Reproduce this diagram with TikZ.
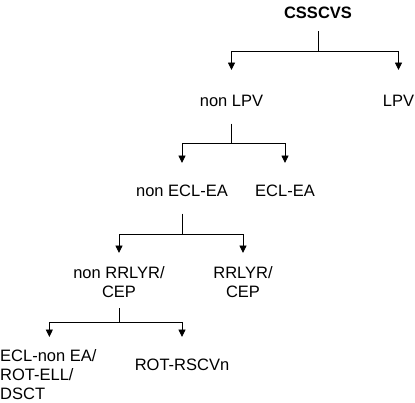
\documentclass[tikz,border=0pt]{standalone}
\usepackage{fontspec}
\setmainfont{Liberation Sans}
\usetikzlibrary{arrows.meta}
\begin{document}
\begin{tikzpicture}[x=1pt,y=-1pt,
  lbl/.style={inner sep=0pt,font=\fontsize{16.5}{19}\selectfont},
  lbltop/.style={lbl,anchor=north},
  ln/.style={line width=0.9pt},
  arr/.style={ln,-{Triangle[length=7.5pt,width=7pt]}}]
\useasboundingbox (0,0) rectangle (415,402);
\node[lbl,font=\fontsize{16.5}{19}\selectfont\bfseries] (css) at (318,13) {CSSCVS};
\node[lbltop] (nonlpv) at (231.5,95.3) {non LPV};
\node[lbltop] (lpv) at (398.5,95.3) {LPV};
\node[lbltop] (nonecl) at (182,184.3) {non ECL-EA};
\node[lbltop] (ecl) at (285,184.3) {ECL-EA};
\node[lbltop,align=center] (nonrr) at (119,266.3) {non RRLYR/\\CEP};
\node[lbltop,align=center] (rr) at (243,266.3) {RRLYR/\\CEP};
\node[lbltop,align=left,anchor=north west] (eclnon) at (0,349) {ECL-non EA/\\ROT-ELL/\\DSCT};
\node[lbltop] (rot) at (182,358.3) {ROT-RSCVn};
% level 1
\draw[ln] (css.south) ++(0,12.3) -- ++(0,20) coordinate (j1);
\draw[arr,shorten >=25.3pt] (j1) -| (nonlpv.north);
\draw[arr,shorten >=25.3pt] (j1) -| (lpv.north);
% level 2
\draw[ln] (nonlpv.south) ++(0,16.3) -- ++(0,20) coordinate (j2);
\draw[arr,shorten >=21.3pt] (j2) -| (nonecl.north);
\draw[arr,shorten >=21.3pt] (j2) -| (ecl.north);
% level 3
\draw[ln] (nonecl.south) ++(0,17.3) -- ++(0,21) coordinate (j3);
\draw[arr,shorten >=13.3pt] (j3) -| (nonrr.north);
\draw[arr,shorten >=13.3pt] (j3) -| (rr.north);
% level 4
\draw[ln] (nonrr.south) ++(0,10.3) -- ++(0,14) coordinate (j4);
\draw[arr,shorten >=12pt] (j4) -| ([xshift=1pt]eclnon.north);
\draw[arr,shorten >=21.3pt] (j4) -| (rot.north);
\end{tikzpicture}
\end{document}
